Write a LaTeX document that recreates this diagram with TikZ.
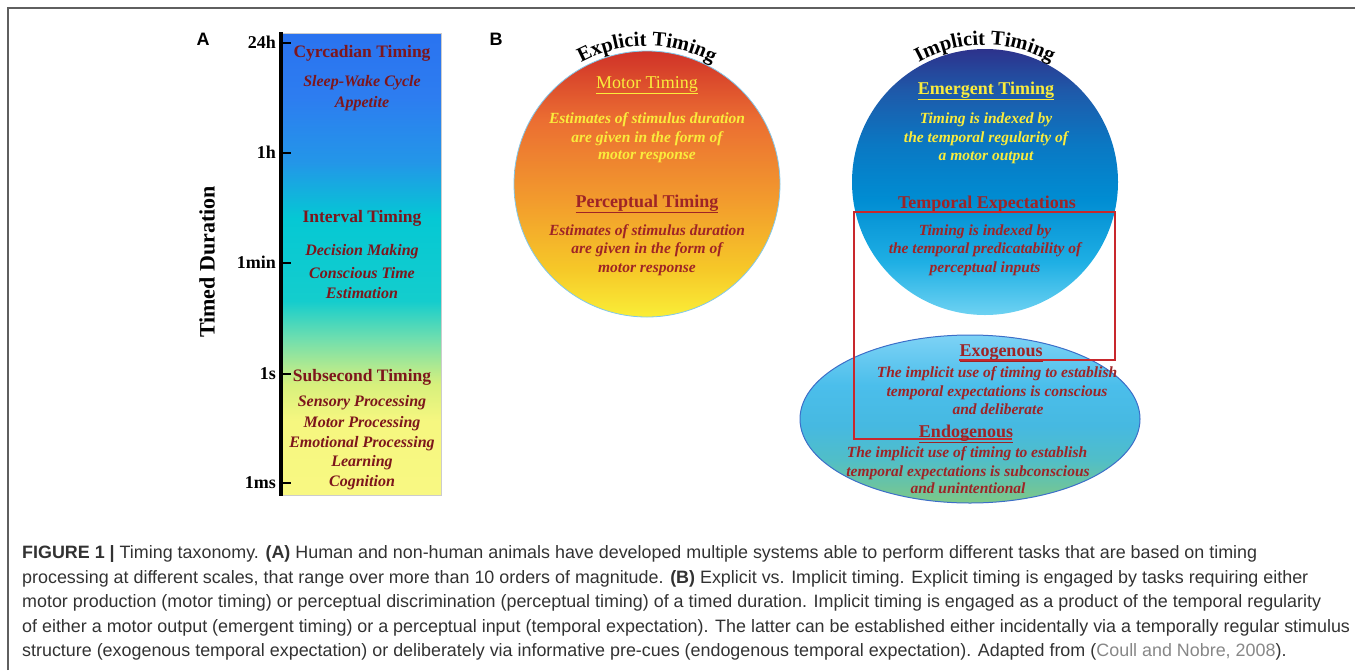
\documentclass[tikz,border=0pt]{standalone}
\usepackage{fontspec}
\setmainfont{Liberation Serif}
\newfontfamily\capfont{Liberation Sans}
\newfontfamily\labfont{Liberation Sans}
\usetikzlibrary{decorations.text,positioning}

\definecolor{DarkRed}{RGB}{125,22,28}
\definecolor{BRed}{RGB}{158,36,38}
\definecolor{Gold}{RGB}{250,236,60}
\definecolor{FrameGray}{RGB}{95,95,95}
\definecolor{CapGray}{RGB}{50,50,50}
\definecolor{RefGray}{RGB}{135,135,135}
\definecolor{BoxRed}{RGB}{200,40,45}
\definecolor{RimBlue}{RGB}{60,110,200}
\definecolor{RimCyan}{RGB}{130,200,235}

% shading stops
\definecolor{a1}{RGB}{248,248,130}
\definecolor{a2}{RGB}{246,247,128}
\definecolor{a3}{RGB}{215,240,125}
\definecolor{a4}{RGB}{110,222,175}
\definecolor{a5}{RGB}{20,205,205}
\definecolor{a6}{RGB}{5,200,212}
\definecolor{a7}{RGB}{35,150,232}
\definecolor{a8}{RGB}{45,125,240}
\definecolor{a9}{RGB}{42,115,240}
\definecolor{e1}{RGB}{250,238,55}
\definecolor{e2}{RGB}{246,200,40}
\definecolor{e3}{RGB}{242,155,45}
\definecolor{e4}{RGB}{235,110,50}
\definecolor{e5}{RGB}{208,50,40}
\definecolor{i1}{RGB}{110,210,242}
\definecolor{i2}{RGB}{30,175,228}
\definecolor{i3}{RGB}{0,140,210}
\definecolor{i4}{RGB}{10,120,195}
\definecolor{i5}{RGB}{30,90,170}
\definecolor{i6}{RGB}{45,50,140}
\definecolor{o1}{RGB}{125,200,135}
\definecolor{o2}{RGB}{80,190,200}
\definecolor{o3}{RGB}{70,185,225}
\definecolor{o4}{RGB}{75,190,235}
\definecolor{o5}{RGB}{125,210,245}

\pgfdeclareverticalshading{barA}{100bp}{color(0bp)=(a1); color(25bp)=(a1); color(33bp)=(a2); color(37bp)=(a3); color(42bp)=(a4); color(46bp)=(a5); color(55bp)=(a6); color(61bp)=(a7); color(68bp)=(a8); color(75bp)=(a9); color(100bp)=(a9)}
\pgfdeclareverticalshading{explicitSh}{100bp}{color(0bp)=(e1); color(25bp)=(e1); color(34bp)=(e2); color(47bp)=(e3); color(62bp)=(e4); color(75bp)=(e5); color(100bp)=(e5)}
\pgfdeclareverticalshading{implicitSh}{100bp}{color(0bp)=(i1); color(25bp)=(i1); color(35bp)=(i2); color(47bp)=(i3); color(57bp)=(i4); color(67bp)=(i5); color(75bp)=(i6); color(100bp)=(i6)}
\pgfdeclareverticalshading{ellSh}{100bp}{color(0bp)=(o1); color(25bp)=(o1); color(38bp)=(o2); color(48bp)=(o3); color(60bp)=(o4); color(75bp)=(o5); color(100bp)=(o5)}

\begin{document}
\begin{tikzpicture}[x=1pt,y=1pt]
	\tikzstyle{HeadA}	= [font=\fontsize{17.5}{20}\selectfont\bfseries, text=DarkRed, anchor=base, inner sep=0pt]
	\tikzstyle{ItemA}	= [font=\fontsize{16}{18}\selectfont\bfseries\itshape, text=DarkRed, anchor=base, inner sep=0pt]
	\tikzstyle{TickLab}	= [font=\fontsize{18}{20}\selectfont\bfseries, anchor=base east, inner sep=0pt]
	\tikzstyle{HeadB}	= [font=\fontsize{18}{20}\selectfont\bfseries, text=BRed, anchor=base, inner sep=0pt]
	\tikzstyle{ItemB}	= [font=\fontsize{15.5}{18}\selectfont\bfseries\itshape, text=BRed, anchor=base, inner sep=0pt]
	\tikzstyle{Panel}	= [font=\labfont\fontsize{18}{20}\selectfont\bfseries, inner sep=0pt]
	\tikzstyle{Cap}		= [font=\capfont\fontsize{17.9}{20}\selectfont, text=CapGray, anchor=base west, inner sep=0pt]

	\useasboundingbox (0,0) rectangle (1355,-670);
	\draw[FrameGray, line width=2pt] (8,-670) -- (8,-8) -- (1355,-8);

	% A: time scale
	\node (pa) at (203,-39) [Panel] {A};
	\shadedraw[shading=barA, draw=gray!40, line width=0.6pt] (282,-33) rectangle (441,-495);
	\draw[line width=3.5pt] (281,-32) -- (281,-496);
	\foreach \y/\lab/\nm in {43/24h/t24h, 153/1h/t1h, 263/1min/t1m, 374/1s/t1s, 483/1ms/t1ms} {
		\draw[line width=2.5pt] (281,-\y) -- (291,-\y);
		\node (\nm) at (276,-\y-5) [TickLab] {\lab};
	}
	\node (dur) at (207,-262) [font=\fontsize{22}{24}\selectfont\bfseries, rotate=90] {Timed Duration};

	\node (cyr) at (362,-57) [HeadA] {Cyrcadian Timing};
	\node (swc) at (362,-86) [ItemA] {Sleep-Wake Cycle};
	\node (app) at (362,-107) [ItemA] {Appetite};
	\node (itv) at (362,-222) [HeadA] {Interval Timing};
	\node (dec) at (362,-255) [ItemA] {Decision Making};
	\node (cte) at (362,-278) [ItemA] {Conscious Time};
	\node (est) at (362,-298) [ItemA] {Estimation};
	\node (sub) at (362,-381) [HeadA] {Subsecond Timing};
	\node (sen) at (362,-406) [ItemA] {Sensory Processing};
	\node (mot) at (362,-427) [ItemA] {Motor Processing};
	\node (emo) at (362,-447) [ItemA] {Emotional Processing};
	\node (lea) at (362,-466) [ItemA] {Learning};
	\node (cog) at (362,-486) [ItemA] {Cognition};

	% B: explicit vs implicit
	\node (pb) at (496,-39) [Panel] {B};
	\coordinate (ex) at (647,-184);
	\coordinate (im) at (985,-182);
	\shadedraw[shading=explicitSh, draw=RimCyan, line width=0.8pt] (ex) circle[radius=133];
	\shade[shading=implicitSh] (im) circle[radius=133];
	\shadedraw[shading=ellSh, draw=RimBlue, line width=1pt] (970,-419) ellipse[x radius=170, y radius=84];

	\path[decorate, decoration={text along path, text align=center, text={|\fontsize{20.5}{22}\selectfont\bfseries|Explicit Timing}}]
		([shift={(150:138)}]ex) arc[start angle=150, end angle=30, radius=138];
	\path[decorate, decoration={text along path, text align=center, text={|\fontsize{20.5}{22}\selectfont\bfseries|Implicit Timing}}]
		([shift={(150:137)}]im) arc[start angle=150, end angle=30, radius=137];

	\node (mtt) at (647,-88) [HeadB, text=Gold, font=\fontsize{18}{20}\selectfont] {\underline{Motor Timing}};
	\node (mt1) at (647,-123) [ItemB, text=Gold] {Estimates of stimulus duration};
	\node (mt2) at (647,-142) [ItemB, text=Gold] {are given in the form of};
	\node (mt3) at (647,-159) [ItemB, text=Gold] {motor response};
	\node (pct) at (647,-207) [HeadB] {\underline{Perceptual Timing}};
	\node (pt1) at (647,-235) [ItemB] {Estimates of stimulus duration};
	\node (pt2) at (647,-253) [ItemB] {are given in the form of};
	\node (pt3) at (647,-272) [ItemB] {motor response};

	\node (emt) at (986,-94) [HeadB, text=Gold] {\underline{Emergent Timing}};
	\node (em1) at (986,-123) [ItemB, text=Gold] {Timing is indexed by};
	\node (em2) at (986,-142) [ItemB, text=Gold] {the temporal regularity of};
	\node (em3) at (986,-160) [ItemB, text=Gold] {a motor output};
	\node (tex) at (987,-208) [HeadB] {Temporal Expectations};
	\node (te1) at (985,-235) [ItemB] {Timing is indexed by};
	\node (te2) at (985,-253) [ItemB] {the temporal predicatability of};
	\node (te3) at (985,-272) [ItemB] {perceptual inputs};

	\draw[BoxRed, line width=1.6pt] (959,-360) -- (1115,-360) -- (1115,-212) -- (854,-212) -- (854,-439) -- (1012,-439);

	\node (exo) at (1001,-356) [HeadB] {\underline{Exogenous}};
	\node (ex1) at (997,-377) [ItemB] {The implicit use of timing to establish};
	\node (ex2) at (997,-396) [ItemB] {temporal expectations is conscious};
	\node (ex3) at (998,-414) [ItemB] {and deliberate};
	\node (endo) at (966,-437) [HeadB] {\underline{Endogenous}};
	\node (en1) at (967,-457) [ItemB] {The implicit use of timing to establish};
	\node (en2) at (968,-476) [ItemB] {temporal expectations is subconscious};
	\node (en3) at (968,-493) [ItemB] {and unintentional};

	% caption
	\node (cap1) at (22,-558) [Cap] {\textbf{FIGURE 1 |} Timing taxonomy. \textbf{(A)} Human and non-human animals have developed multiple systems able to perform different tasks that are based on timing};
	\node (cap2) at (22,-583) [Cap] {processing at different scales, that range over more than 10 orders of magnitude. \textbf{(B)} Explicit vs. Implicit timing. Explicit timing is engaged by tasks requiring either};
	\node (cap3) at (22,-607) [Cap] {motor production (motor timing) or perceptual discrimination (perceptual timing) of a timed duration. Implicit timing is engaged as a product of the temporal regularity};
	\node (cap4) at (22,-632) [Cap] {of either a motor output (emergent timing) or a perceptual input (temporal expectation). The latter can be established either incidentally via a temporally regular stimulus};
	\node (cap5) at (22,-656) [Cap] {structure (exogenous temporal expectation) or deliberately via informative pre-cues (endogenous temporal expectation). Adapted from (\textcolor{RefGray}{Coull and Nobre, 2008}).};
\end{tikzpicture}
\end{document}
